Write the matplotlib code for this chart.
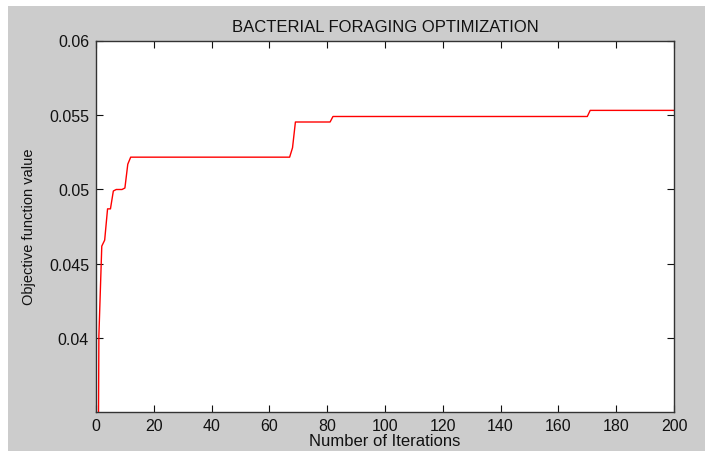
import matplotlib
matplotlib.use('Agg')
import matplotlib.pyplot as plt
from matplotlib.patches import Rectangle

plt.rcParams['font.family'] = ['Liberation Sans', 'DejaVu Sans']

# objective value per iteration (iteration 0 is the initial value, far below the axis)
iterations = list(range(0, 201))
early = [0.0, 0.0402, 0.0462, 0.0466, 0.0487, 0.0487, 0.0499, 0.0500,
         0.0500, 0.0500, 0.0501, 0.0517]
plateau1 = 0.05217
jump = [0.0528]
plateau2 = 0.05453
plateau3 = 0.05490
plateau4 = 0.05531

values = early + [plateau1] * (68 - len(early)) + jump
values += [plateau2] * (82 - len(values))
values += [plateau3] * (171 - len(values))
values += [plateau4] * (201 - len(values))

y_ticks = [0.04, 0.045, 0.05, 0.055, 0.06]
y_labels = ['0.04', '0.045', '0.05', '0.055', '0.06']

fig = plt.figure(figsize=(7.05, 4.52), dpi=100, facecolor='white')
fig.patches.append(Rectangle((8 / 705, 0), 1, 1 - 7 / 452, transform=fig.transFigure,
                             facecolor='#cccccc', edgecolor='none', zorder=-1))
ax = fig.add_axes([96 / 705, 39.5 / 452, 578 / 705, 371 / 452])
ax.plot(iterations, values, color='#ff0000', linewidth=1.0)

ax.set_xlim(0, 200)
ax.set_ylim(0.0351, 0.06)
ax.set_xticks(range(0, 201, 20))
ax.set_yticks(y_ticks)
ax.set_yticklabels(y_labels)
ax.tick_params(direction='in', length=5, top=True, right=True, labelsize=11.5,
               colors='#111111', pad=5)
for s in ax.spines.values():
    s.set_color('#333333')
    s.set_linewidth(1.0)

ax.set_title('BACTERIAL FORAGING OPTIMIZATION', fontsize=12, color='#111111', pad=7)
ax.set_xlabel('Number of Iterations', fontsize=12, color='#111111', labelpad=0)
ax.set_ylabel('Objective function value', fontsize=10.5, color='#111111', labelpad=9)

fig.savefig('out.png', dpi=100, facecolor=fig.get_facecolor())
